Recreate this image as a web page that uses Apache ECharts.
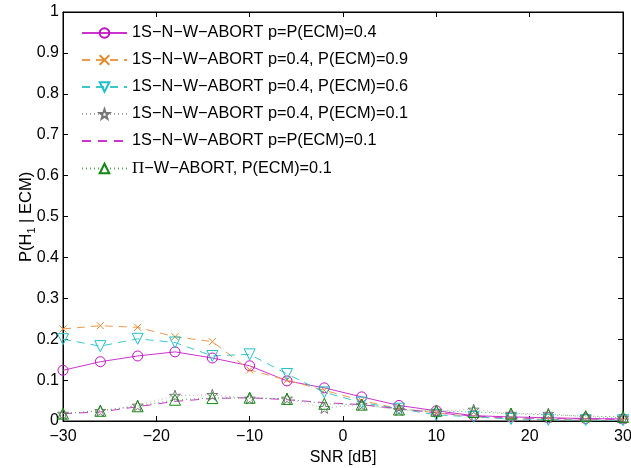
<!DOCTYPE html>
<html>
<head>
<meta charset="utf-8">
<script src="https://cdn.jsdelivr.net/npm/echarts@6/dist/echarts.min.js"></script>
<style>
  html, body { margin: 0; padding: 0; background: #fff; }
  #chart { width: 631px; height: 468px; }
</style>
</head>
<body>
<div id="chart"></div>
<script>
// SNR grid (dB)
const snr = [-30, -26, -22, -18, -14, -10, -6, -2, 2, 6, 10, 14, 18, 22, 26, 30];

// P(H1 | ECM) for each scheme
const nwAbortP04 = [0.124, 0.145, 0.159, 0.169, 0.154, 0.135, 0.098, 0.081, 0.059, 0.038, 0.025, 0.013, 0.010, 0.008, 0.006, 0.005];
const nwAbortEcm09 = [0.225, 0.233, 0.229, 0.206, 0.194, 0.125, 0.100, 0.075, 0.050, 0.030, 0.020, 0.010, 0.006, 0.004, 0.003, 0.002];
const nwAbortEcm06 = [0.200, 0.183, 0.201, 0.192, 0.159, 0.163, 0.115, 0.070, 0.045, 0.030, 0.015, 0.010, 0.005, 0.003, 0.002, 0.002];
const nwAbortEcm01 = [0.018, 0.025, 0.038, 0.062, 0.064, 0.055, 0.055, 0.032, 0.040, 0.027, 0.025, 0.028, 0.018, 0.018, 0.010, 0.008];
const nwAbortP01 = [0.018, 0.022, 0.035, 0.048, 0.055, 0.057, 0.052, 0.045, 0.040, 0.030, 0.020, 0.012, 0.008, 0.006, 0.005, 0.004];
const piAbortEcm01 = [0.018, 0.025, 0.036, 0.052, 0.056, 0.057, 0.054, 0.042, 0.040, 0.028, 0.025, 0.022, 0.018, 0.015, 0.012, 0.010];

const seriesNames = [
  '1S\u2212N\u2212W\u2212ABORT p=P(ECM)=0.4',
  '1S\u2212N\u2212W\u2212ABORT p=0.4, P(ECM)=0.9',
  '1S\u2212N\u2212W\u2212ABORT p=0.4, P(ECM)=0.6',
  '1S\u2212N\u2212W\u2212ABORT p=0.4, P(ECM)=0.1',
  '1S\u2212N\u2212W\u2212ABORT p=P(ECM)=0.1',
  '\u03a0\u2212W\u2212ABORT, P(ECM)=0.1'
];

const xTicks = [-30, -20, -10, 0, 10, 20, 30];

// marker outlines (stroked, unfilled)
const SYM_CIRCLE = 'path://M10,5A5,5,0,1,1,0,5A5,5,0,1,1,10,5Z';
const SYM_X = 'path://M0,0L10,10M10,0L0,10';
const SYM_TRI_DOWN = 'path://M0,0L10,0L5,9Z';
const SYM_TRI_UP = 'path://M5,0L10,9L0,9Z';
const SYM_STAR = 'path://M5,0L6.18,3.38L9.76,3.45L6.9,5.62L7.94,9.05L5,7L2.06,9.05L3.1,5.62L0.24,3.45L3.82,3.38Z';

function line(name, data, color, dash, symbol, size, markColor) {
  return {
    name: name,
    type: 'line',
    data: snr.map((x, i) => [x, data[i]]),
    symbol: symbol,
    symbolSize: size,
    showSymbol: symbol !== 'none',
    lineStyle: { color: color, width: 1, type: dash },
    itemStyle: {
      color: 'rgba(0,0,0,0)',
      borderColor: symbol === 'none' ? 'rgba(0,0,0,0)' : (markColor || color),
      borderWidth: 1
    },
    emphasis: { disabled: true },
    animation: false,
    z: 2
  };
}

const chart = echarts.init(document.getElementById('chart'), null, { renderer: 'canvas' });

const font = 'Liberation Sans, Arial, Helvetica, sans-serif';
const legendSize = 16.3;

chart.setOption({
  backgroundColor: '#fff',
  textStyle: { fontFamily: font, fontSize: legendSize, color: '#000' },
  grid: {
    left: 63, right: 8, top: 12, bottom: 47,
    containLabel: false, outerBoundsMode: 'none',
    show: true, borderColor: '#000', borderWidth: 1, backgroundColor: '#fff'
  },
  graphic: [{
    type: 'text',
    x: 15,
    y: 262,
    rotation: Math.PI / 2,
    style: {
      text: 'P(H{sub|1} | ECM)',
      font: '16.5px ' + font,
      fill: '#000',
      rich: { sub: { fontSize: 11, fontFamily: font, fill: '#000', padding: [11, 0, 0, 0] } }
    }
  }],
  legend: {
    orient: 'vertical',
    left: 81,
    top: 25,
    padding: 0,
    itemWidth: 45,
    itemHeight: 12,
    itemGap: 11,
    textStyle: {
      fontFamily: font, fontSize: legendSize, color: '#000',
      rich: {
        n: { fontFamily: font, fontSize: legendSize, color: '#000', height: 17 },
        pi: { fontFamily: 'Liberation Serif, serif', fontSize: 17, color: '#000', height: 17 }
      }
    },
    formatter: function (n) {
      if (n.charAt(0) === '\u03a0') return '{pi|\u03a0}{n|' + n.slice(1) + '}';
      return '{n|' + n + '}';
    },
    data: seriesNames,
    selectedMode: false
  },
  xAxis: [{
    type: 'value', min: -30, max: 30, interval: 10,
    name: 'SNR [dB]', nameLocation: 'middle', nameGap: 27,
    nameTextStyle: { fontSize: 16, color: '#000', fontFamily: font },
    axisLine: { onZero: false, lineStyle: { color: '#000', width: 1 } },
    axisTick: { inside: true, length: 5, lineStyle: { color: '#000' } },
    axisLabel: { color: '#000', fontSize: 16, margin: 8, formatter: v => xTicks.includes(v) ? String(v).replace('-', '\u2212') : '' },
    splitLine: { show: false }
  }, {
    type: 'value', min: -30, max: 30, interval: 10, position: 'top',
    axisLine: { onZero: false, lineStyle: { color: '#000' } },
    axisTick: { inside: true, length: 5, lineStyle: { color: '#000' } },
    axisLabel: { show: false }, splitLine: { show: false }
  }],
  yAxis: [{
    type: 'value', min: 0, max: 1, interval: 0.1,
    axisLine: { show: true, onZero: false, lineStyle: { color: '#000', width: 1 } },
    axisTick: { show: true, inside: true, length: 5, lineStyle: { color: '#000' } },
    axisLabel: { color: '#000', fontSize: 16, margin: 4, formatter: v => String(Math.round(v * 10) / 10) },
    splitLine: { show: false }
  }, {
    type: 'value', min: 0, max: 1, interval: 0.1, position: 'right',
    axisLine: { show: true, onZero: false, lineStyle: { color: '#000' } },
    axisTick: { show: true, inside: true, length: 5, lineStyle: { color: '#000' } },
    axisLabel: { show: false }, splitLine: { show: false }
  }],
  series: [
    line(seriesNames[0], nwAbortP04, '#cc33cc', 'solid', SYM_CIRCLE, 10, '#c010c0'),
    line(seriesNames[1], nwAbortEcm09, '#eb9b4a', [8, 6], SYM_X, 7, '#e08a30'),
    line(seriesNames[2], nwAbortEcm06, '#3cc8c8', [8, 6], SYM_TRI_DOWN, 11, '#20c0c8'),
    line(seriesNames[3], nwAbortEcm01, '#aaaaaa', [1, 3], SYM_STAR, 11, '#777777'),
    line(seriesNames[4], nwAbortP01, '#cc33cc', [9, 7], 'none', 0),
    line(seriesNames[5], piAbortEcm01, '#55aa55', [1, 3], SYM_TRI_UP, 11, '#118811')
  ]
});
</script>
</body>
</html>
